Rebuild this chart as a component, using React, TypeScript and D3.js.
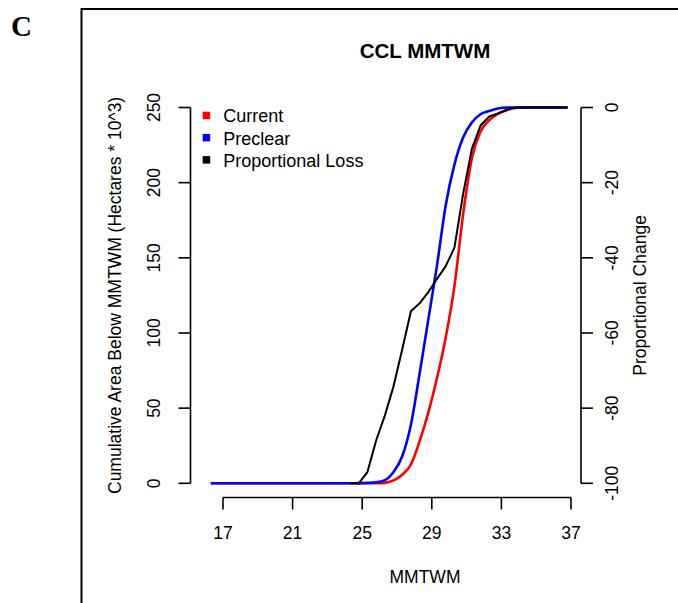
import React from "react";
import * as d3 from "d3";

// ---- data ----
const mmtwm = [16.3,16.8,17.3,17.8,18.3,18.8,19.3,19.8,20.3,20.8,21.3,21.8,22.3,22.8,23.3,23.8,24.3,24.8,25.3,25.8,26.3,26.8,27.3,27.8,28.3,28.8,29.3,29.8,30.3,30.8,31.3,31.8,32.3,32.8,33.3,33.8,34.3,34.8,35.3,35.8,36.3,36.8];
const current = [0,0,0,0,0,0,0,0,0,0,0,0,0,0,0,0,0,0,0,0.1,0.3,1.9,5.7,12.5,28,47,70,97,131,179,216,234,241.5,245.7,248.2,249.7,250,250,250,250,250,250];
const preclear = [0,0,0,0,0,0,0,0,0,0,0,0,0,0,0,0,0.05,0.1,0.3,0.6,2,7.5,18,39,73,109,145,185,212,230,240,245.5,247.6,249.3,250,250,250,250,250,250,250,250];
const propLoss: (number | null)[] = [null,null,null,null,null,null,null,null,null,null,null,null,null,null,null,null,-100,-100,-97,-88.6,-82,-74.2,-64.4,-54.2,-52.1,-49.1,-45.6,-42.2,-37.3,-23,-11,-4.8,-2.4,-1.6,-0.6,0,0,0,0,0,0,0];

const xTicks = [17, 21, 25, 29, 33, 37];
const yTicks = [0, 50, 100, 150, 200, 250];
const rTicks = [0, -20, -40, -60, -80, -100];
const legendLabels = ["Current", "Preclear", "Proportional Loss"];
const legendColors = ["#ff0000", "#0000ff", "#000000"];

const FONT = "'Liberation Sans', Arial, Helvetica, sans-serif";

export default function App() {
  const x = d3.scaleLinear().domain([17, 37]).range([223, 571]);
  const yL = d3.scaleLinear().domain([0, 250]).range([483.3, 107.5]);
  const yR = d3.scaleLinear().domain([-100, 0]).range([483.3, 107.5]);

  const lineL = d3
    .line<number>()
    .x((_, i) => x(mmtwm[i]))
    .y((d) => yL(d))
    .curve(d3.curveMonotoneX);
  const lineR = d3
    .line<number | null>()
    .defined((d) => d !== null)
    .x((_, i) => x(mmtwm[i]))
    .y((d) => yR(d as number));

  const axL = 190.5;
  const axR = 581;
  const axB = 497.5;
  const tick = 12;

  return (
    <svg
      width={678}
      height={603}
      style={{ position: "absolute", left: 0, top: 0, background: "#fff" }}
      fontFamily={FONT}
    >
      <rect x={0} y={0} width={678} height={603} fill="#fff" />
      {/* panel frame */}
      <path d="M81.5,603 L81.5,9 L678,9" fill="none" stroke="#000" strokeWidth={2} />
      <text x={11} y={36} fontFamily="'Liberation Serif', 'Times New Roman', serif" fontWeight="bold" fontSize={29}>
        C
      </text>

      {/* title */}
      <text x={425} y={58} textAnchor="middle" fontWeight="bold" fontSize={20.5}>
        CCL MMTWM
      </text>

      {/* lines */}
      <path d={lineL(current) || ""} fill="none" stroke="#ff0000" strokeWidth={2.6} strokeLinejoin="round" />
      <path d={lineL(preclear) || ""} fill="none" stroke="#0000ff" strokeWidth={2.6} strokeLinejoin="round" />
      <path d={lineR(propLoss) || ""} fill="none" stroke="#000000" strokeWidth={2} strokeLinejoin="round" />

      {/* left axis */}
      <g stroke="#000" strokeWidth={1.6} fill="none">
        <line x1={axL} x2={axL} y1={yL(0)} y2={yL(250)} />
        {yTicks.map((t) => (
          <line key={t} x1={axL - tick} x2={axL} y1={yL(t)} y2={yL(t)} />
        ))}
      </g>
      {yTicks.map((t) => (
        <text key={t} transform={`translate(160,${yL(t)}) rotate(-90)`} textAnchor="middle" fontSize={17.5}>
          {t}
        </text>
      ))}
      <text transform={`translate(121,${(yL(0) + yL(250)) / 2}) rotate(-90)`} textAnchor="middle" fontSize={17.5}>
        Cumulative Area Below MMTWM (Hectares * 10^3)
      </text>

      {/* right axis */}
      <g stroke="#000" strokeWidth={1.6} fill="none">
        <line x1={axR} x2={axR} y1={yR(-100)} y2={yR(0)} />
        {rTicks.map((t) => (
          <line key={t} x1={axR} x2={axR + tick} y1={yR(t)} y2={yR(t)} />
        ))}
      </g>
      {rTicks.map((t) => (
        <text key={t} transform={`translate(618,${yR(t)}) rotate(-90)`} textAnchor="middle" fontSize={17.5}>
          {t}
        </text>
      ))}
      <text transform={`translate(646,${(yR(0) + yR(-100)) / 2}) rotate(-90)`} textAnchor="middle" fontSize={17.5}>
        Proportional Change
      </text>

      {/* bottom axis */}
      <g stroke="#000" strokeWidth={1.6} fill="none">
        <line x1={x(17)} x2={x(37)} y1={axB} y2={axB} />
        {xTicks.map((t) => (
          <line key={t} x1={x(t)} x2={x(t)} y1={axB} y2={axB + tick} />
        ))}
      </g>
      {xTicks.map((t) => (
        <text key={t} x={x(t)} y={538.5} textAnchor="middle" fontSize={17.5}>
          {t}
        </text>
      ))}
      <text x={425} y={582.7} textAnchor="middle" fontSize={17.5}>
        MMTWM
      </text>

      {/* legend */}
      {legendLabels.map((l, i) => (
        <g key={l}>
          <rect x={202.7} y={111.7 + i * 22.2} width={7.5} height={7.5} fill={legendColors[i]} />
          <text x={223.3} y={122.3 + i * 22.2} fontSize={18}>
            {l}
          </text>
        </g>
      ))}
    </svg>
  );
}
